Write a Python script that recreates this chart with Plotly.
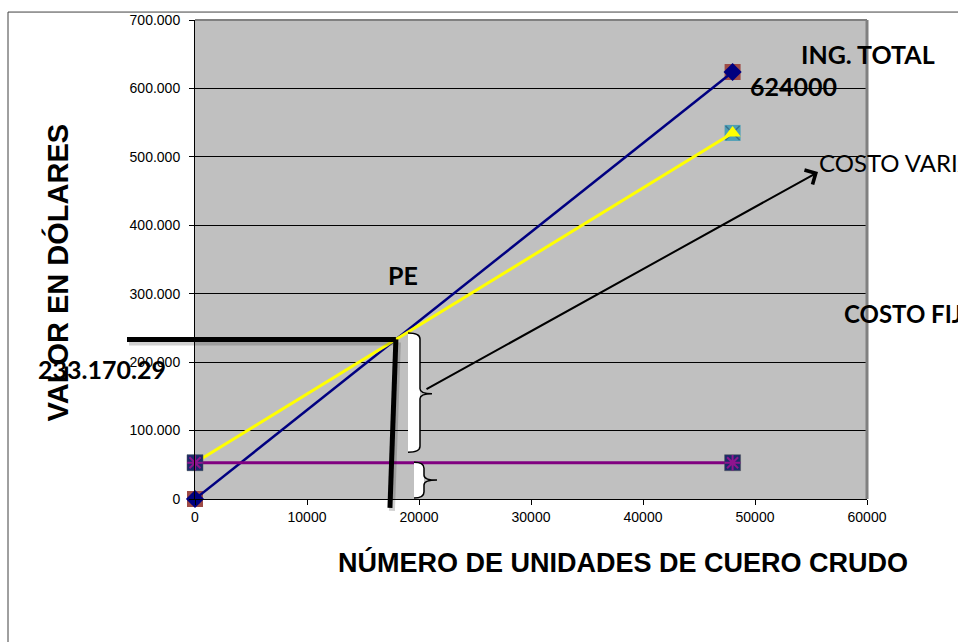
import plotly.graph_objects as go

# ---------------- data ----------------
units = [0, 48000]
ingreso_total = [0, 624000]
costo_total = [53000, 535000]
costo_fijo = [53000, 53000]
pe_units = 17936
pe_value = 233170.29

x_ticks = [0, 10000, 20000, 30000, 40000, 50000, 60000]
x_tick_labels = ["0", "10000", "20000", "30000", "40000", "50000", "60000"]
y_ticks = [0, 100000, 200000, 300000, 400000, 500000, 600000, 700000]
y_tick_labels = ["0", "100.000", "200.000", "300.000", "400.000",
                 "500.000", "600.000", "700.000"]
X_MAX, Y_MAX = 60000, 700000

# ---------------- layout helpers (pixel -> paper) ----------------
W, H = 958, 642
L, R, T, B = 195, 867, 17, 499


def px(v):
    return (v - L) / (R - L)


def py(v):
    return (B - v) / (B - T)


fig = go.Figure()

# Ingreso total
fig.add_trace(go.Scatter(x=units, y=ingreso_total, mode="markers", cliponaxis=False,
                         marker=dict(symbol="square", size=16, color="#9E4B46"),
                         showlegend=False, hoverinfo="skip"))
fig.add_trace(go.Scatter(x=units, y=ingreso_total, mode="lines+markers", cliponaxis=False,
                         line=dict(color="#000080", width=2.5),
                         marker=dict(symbol="diamond", size=14, color="#000080"),
                         name="Ingreso total", showlegend=False))
# Costo total
fig.add_trace(go.Scatter(x=units, y=costo_total, mode="markers", cliponaxis=False,
                         marker=dict(symbol="square", size=16, color="#4E9FB6"),
                         showlegend=False, hoverinfo="skip"))
fig.add_trace(go.Scatter(x=units, y=costo_total, mode="markers", cliponaxis=False,
                         marker=dict(symbol="x-thin-open", size=14, color="#3A6F8C",
                                     line=dict(color="#3A6F8C", width=1.5)),
                         showlegend=False, hoverinfo="skip"))
fig.add_trace(go.Scatter(x=units, y=costo_total, mode="lines+markers", cliponaxis=False,
                         line=dict(color="#FFFF00", width=3),
                         marker=dict(symbol="triangle-up", size=14, color="#FFFF00"),
                         name="Costo total", showlegend=False))
# Costo fijo
fig.add_trace(go.Scatter(x=units, y=costo_fijo, mode="lines+markers", cliponaxis=False,
                         line=dict(color="#800080", width=3),
                         marker=dict(symbol="square", size=16, color="#1B2A6B",
                                     line=dict(color="#555555", width=0.5)),
                         name="Costo fijo", showlegend=False))
fig.add_trace(go.Scatter(x=units, y=costo_fijo, mode="markers", cliponaxis=False,
                         marker=dict(symbol="asterisk-open", size=13, color="#8E148E",
                                     line=dict(color="#8E148E", width=2)),
                         showlegend=False, hoverinfo="skip"))

shapes = []
# plot area top/right border (gray)
shapes.append(dict(type="line", xref="paper", yref="paper", x0=0, x1=1, y0=1, y1=1,
                   line=dict(color="#808080", width=2)))
shapes.append(dict(type="line", xref="paper", yref="paper", x0=1, x1=1, y0=0, y1=1,
                   line=dict(color="#808080", width=3)))
# outer frame
shapes.append(dict(type="line", xref="paper", yref="paper", x0=px(8), x1=px(960),
                   y0=py(9), y1=py(9), line=dict(color="#404040", width=1)))
shapes.append(dict(type="line", xref="paper", yref="paper", x0=px(8), x1=px(8),
                   y0=py(9), y1=py(645), line=dict(color="#404040", width=1)))

# PE guide lines (with soft shadow)
pe_xp = pe_units / X_MAX
pe_yp = pe_value / Y_MAX
bot_xp = (pe_units - 530) / X_MAX
dx, dy = 2 / (R - L), 3 / (B - T)
shapes.append(dict(type="line", xref="paper", yref="paper",
                   x0=px(127) + dx, x1=pe_xp + dx, y0=pe_yp - dy, y1=pe_yp - dy,
                   line=dict(color="rgba(0,0,0,0.18)", width=6)))
shapes.append(dict(type="line", xref="paper", yref="paper",
                   x0=pe_xp + dx, x1=bot_xp + dx, y0=pe_yp - dy, y1=py(508) - dy,
                   line=dict(color="rgba(0,0,0,0.18)", width=6)))
shapes.append(dict(type="line", xref="paper", yref="paper",
                   x0=px(127), x1=pe_xp, y0=pe_yp, y1=pe_yp,
                   line=dict(color="black", width=5)))
shapes.append(dict(type="line", xref="paper", yref="paper",
                   x0=pe_xp, x1=bot_xp, y0=pe_yp, y1=py(508),
                   line=dict(color="black", width=5)))


def P(x, y):
    return f"{px(x):.5f},{py(y):.5f}"


def brace(a, b, c, t, bt, m):
    fill = (f"M{P(a, t)} Q{P(b, t)} {P(b, t + 6)} L{P(b, bt - 6)} "
            f"Q{P(b, bt)} {P(a, bt)} Z")
    line = (f"M{P(a, t)} Q{P(b, t)} {P(b, t + 6)} L{P(b, m - 5)} "
            f"Q{P(b, m)} {P(c, m)} Q{P(b, m)} {P(b, m + 5)} L{P(b, bt - 6)} "
            f"Q{P(b, bt)} {P(a, bt)}")
    return [dict(type="path", xref="paper", yref="paper", path=fill,
                 fillcolor="white", line=dict(width=0)),
            dict(type="path", xref="paper", yref="paper", path=line,
                 line=dict(color="black", width=1.5))]


shapes += brace(408, 420, 432, 332, 452, 393)
shapes += brace(414, 424, 437, 462, 498, 480)

calibri = "Lato"
ann = []


def label(text, x, y, size=25, bold=True, family=calibri):
    ann.append(dict(text=f"<b>{text}</b>" if bold else text, x=px(x), y=py(y),
                    xref="paper", yref="paper", xanchor="left", yanchor="middle",
                    showarrow=False, font=dict(family=family, size=size, color="black")))


label("ING. TOTAL", 799, 51)
label("624000", 748, 83)
label("COSTO VARIABLE", 817, 160, size=24, bold=False)
label("COSTO FIJO", 842, 312, size=24)
label("PE", 386, 274)
label("233.170.29", 36, 368)

# arrow
ann.append(dict(x=px(818), y=py(170), xref="paper", yref="paper",
                ax=425 - 818, ay=388 - 170, axref="pixel", ayref="pixel",
                text="", showarrow=True, arrowhead=4, arrowsize=1.6,
                arrowwidth=2, arrowcolor="black", standoff=0))

# axis titles
ann.append(dict(text="<b>NÚMERO DE UNIDADES DE CUERO CRUDO</b>", x=px(623), y=py(563),
                xref="paper", yref="paper", xanchor="center", yanchor="middle",
                showarrow=False,
                font=dict(family="Liberation Sans", size=27, color="black")))
ann.append(dict(text="<b>VALOR EN DÓLARES</b>", x=px(57), y=py(271),
                xref="paper", yref="paper", xanchor="center", yanchor="middle",
                textangle=-90, showarrow=False,
                font=dict(family="Liberation Sans", size=29, color="black")))

fig.update_layout(
    width=W, height=H,
    margin=dict(l=L, r=W - R, t=T, b=H - B, pad=0),
    paper_bgcolor="white", plot_bgcolor="#C0C0C0",
    shapes=shapes, annotations=ann,
    xaxis=dict(range=[0, X_MAX], tickvals=x_ticks, ticktext=x_tick_labels,
               ticks="outside", ticklen=5, tickcolor="black", showline=True,
               linecolor="black", linewidth=1, showgrid=False, zeroline=False,
               tickfont=dict(family="Liberation Sans", size=14, color="black")),
    yaxis=dict(range=[0, Y_MAX], tickvals=y_ticks, ticktext=y_tick_labels,
               ticks="outside", ticklen=5, tickcolor="black", showline=True,
               linecolor="black", linewidth=1, showgrid=True, gridcolor="black",
               gridwidth=1, zeroline=False, ticklabelstandoff=6,
               tickfont=dict(family="Liberation Sans", size=14, color="black")),
)

fig.write_html("out.html", config={"displayModeBar": False})
